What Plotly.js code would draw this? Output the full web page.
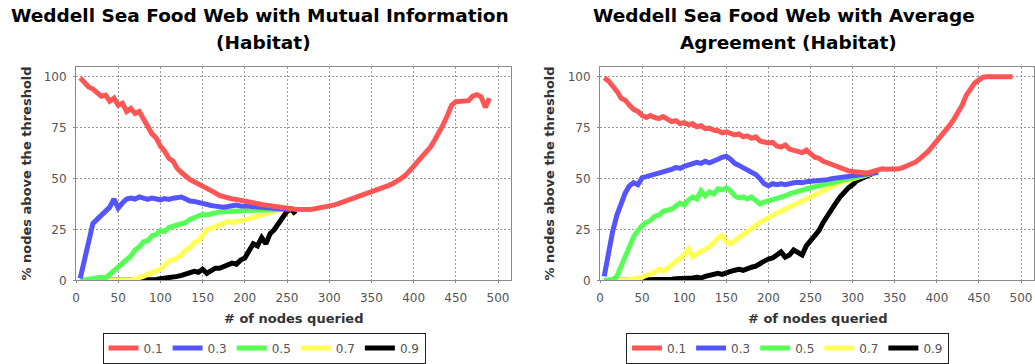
<!DOCTYPE html>
<html>
<head>
<meta charset="utf-8">
<script src="https://cdn.plot.ly/plotly-3.0.1.min.js"></script>
<style>html,body{margin:0;padding:0;background:#fff;}#chart{width:1035px;height:364px;}</style>
</head>
<body>
<div id="chart"></div>
<script>
// # of nodes queried (shared x values)
const nodesQueried = [5,10,15,20,25,30,35,40,45,50,55,60,65,70,75,80,85,90,95,100,
  105,110,115,120,125,130,135,140,145,150,155,160,165,170,175,180,185,190,195,200,
  205,210,215,220,225,230,235,240,245,250,255,260,265,270,275,280,285,290,295,300,
  305,310,315,320,325,330,335,340,345,350,355,360,365,370,375,380,385,390,395,400,
  405,410,415,420,425,430,435,440,445,450,455,460,465,470,475,480,485,490];

const thresholds = ["0.1","0.3","0.5","0.7","0.9"];
const seriesColors = ["#FF5555","#5555FF","#55FF55","#FFFF55","#000000"];

// Mutual Information (Habitat): % nodes above threshold
const miT01 = [99.5,97,95,94,92,90.5,91,88,89.5,86,
  87,83,84.5,82,83,79,76,72,70,66,
  63.5,60,58.5,55,53,51,49.5,48.5,47.5,46.5,
  45,44,43,41.8,41,40.5,40,39.8,39.3,39,
  38.5,38.2,37.8,37.3,37,36.6,36.3,36,35.8,35.5,
  35.2,35,34.8,34.8,34.8,35,35.3,35.8,36.2,36.5,
  37,37.6,38.3,39,39.8,40.5,41.3,42,42.8,43.6,
  44.3,45,45.8,46.6,47.5,48.6,50,51.5,53.5,56,
  58.5,61,63,65.5,69,72.5,76.5,81,86,87.8,
  88,88.5,88.3,90.5,91.2,90.2,85,89.5];
const miT03 = [1,10,19,28,30,32,33.5,36,40,35.5,
  38,40,40.5,40,41,40.2,39.8,40.5,40,39.6,
  40.2,39.8,40.4,40.5,41,40,39,38.8,38.2,37.8,
  37.4,36.8,36.5,36.2,36,36.3,36.8,37,36.6,36.8,
  36.5,36.2,36,35.8,35.6,35.4,35.3,35.2,35,34.9,
  34.8];
const miT05 = [0,0.3,0.5,1,0.8,1.5,1.2,3,5,6.5,
  8.5,10,12,15,16.5,19,19.5,22,22.5,24.5,
  24,26,26.5,27.5,28,28.5,30,31,31.5,32.5,
  32.2,33,33.2,33.6,33.4,33.8,34,33.8,34.2,34.4,
  34.3,34.5,34.4,34.6,34.6,34.7,34.8,34.8,34.8];
const miT07 = [0,0,0,0,0,0,0,0,0,0,
  0,0,0.3,0.8,1.2,2,3,4,5,5.5,
  7.5,9.5,10,11.5,12.5,15,16,18.5,19.5,22,
  25,25.5,26.5,27,28,29,28.5,28.8,29.5,30,
  30.2,31,31.5,32,32.5,33.4,34,34.5];
const miT09 = [0,0,0,0,0,0,0,0,0,0,
  0,0,0,0,0,0,0.2,0.3,0.5,0.8,
  1,1.5,1.2,2,2.5,3,3.5,4.5,4,5.5,
  3.5,5,6,6,6.8,7.5,8.5,8,10,11,
  14,18,17,21,18,23,25,28,30.5,34,
  35,32.5];

// Average Agreement (Habitat): % nodes above threshold
const aaT01 = [99.5,98,95.5,93,89.5,88.5,86,84,83,81,
  80,81,80,79.5,80.5,79,78,78.5,77,77.5,
  76.5,77,75.5,76,74.5,74.8,73.8,73.5,72.5,73,
  72,71.5,72,70.5,71,69.8,70.5,68.5,68,67.5,
  67.8,66,65.5,66.5,64.5,64,63.5,62.8,64,62,
  60.5,60,58.5,57.8,57,55.8,55.2,54.5,53.8,53.5,
  53.2,53,52.8,53,53.8,54.5,54.8,54.6,54.5,54.5,
  54.8,55.5,56.2,57,58.2,59.8,61.5,63.5,66,68.5,
  70.5,73,76,79,82.5,86,91,94.5,97,98.5,
  99.8,100,100,100,100,100,100,100];
const aaT03 = [2,14,24,32,38,43,46.5,48,47,50.5,
  51,51.5,52,52.5,53.5,53.8,54.5,55.5,55,56,
  56.5,57,58,57.5,58.5,57.8,59,59.5,60.5,61,
  59.5,57.5,56.5,55.5,54.5,53.5,52,50,47.5,46.5,
  47.5,47,47.5,47,47.8,48,48.2,48,48.5,48.6,
  48.8,49,49.2,49.5,50,50.3,50.6,51,51.2,51.5,
  51.8,52,52.2,52.5,52.8,53];
const aaT05 = [0,0,0.5,2,7,12,17,21.5,24.5,27,
  28.5,29.5,31.5,32,34,34.5,35,36.5,38,37,
  39.5,41,40,44,41.5,43.5,42.5,45,44.5,45.5,
  44,41.5,40.5,41,40,41,39.5,37.5,38.5,39,
  39.5,40.5,41,41.5,42.5,43.2,43.8,44.2,44.8,45.5,
  46,46.5,47,47.5,48,48.3,48.8,49.2,49.7,50.2,
  50.8,51.3,51.8,52.2,52.8];
const aaT07 = [0,0,0,0.2,0.3,0.5,0.5,0.8,1,1.5,
  2.5,3,4,5.5,4.5,6,7.5,9,11,12.5,
  15.5,11.5,13,14,15.5,16.5,18.5,21,22,19,
  18,19.5,21.5,23,24.5,26,27.5,28.5,29.5,31,
  32,33,34,35,36,37,38,39,40,41.5,
  42.5,43.5,44.5,45.5,46.4,47.2,48,48.7,49.3,50,
  50.6,51.2,51.8,52.3,52.8];
const aaT09 = [0,0,0,0,0,0,0,0,0,0,
  0,0.2,0.3,0.3,0.5,0.5,0.6,0.8,0.8,1,
  1,1.2,1.5,1.2,2,2.5,3,3.5,3,4,
  4.5,5,5.5,5,6,6.5,7,8.5,9.5,10.5,
  11,12.5,14,11.5,12.5,15,14,12.5,17,19.5,
  22,24.5,28.5,32,35,38,41,43.5,45.5,47,
  49,50,51,52,52.8,53.3];

const titleLeft = ["Weddell Sea Food Web with Mutual Information", "(Habitat)"];
const titleRight = ["Weddell Sea Food Web with Average", "Agreement (Habitat)"];
const xTitle = "# of nodes queried";
const yTitle = "% nodes above the threshold";

const W = 1035, H = 364;
const px = v => v / W;
const py = v => (H - v) / H;

const miSeries = [miT01, miT03, miT05, miT07, miT09];
const aaSeries = [aaT01, aaT03, aaT05, aaT07, aaT09];

const traces = [];
function addTraces(series, xa, ya, legendId) {
  // draw the last series first so that 0.1 ends up on top
  for (let i = series.length - 1; i >= 0; i--) {
    const y = series[i];
    traces.push({
      type: 'scatter', mode: 'lines',
      x: nodesQueried.slice(0, y.length), y: y,
      xaxis: xa, yaxis: ya,
      name: thresholds[i],
      legend: legendId,
      legendrank: i + 1,
      line: {color: seriesColors[i], width: 5},
      hoverinfo: 'skip'
    });
  }
}
addTraces(miSeries, 'x', 'y', 'legend');
addTraces(aaSeries, 'x2', 'y2', 'legend2');

const fontFam = 'DejaVu Sans, sans-serif';
const xaxisBase = {
  range: [0, 515.4], tickvals: [0,50,100,150,200,250,300,350,400,450,500],
  showgrid: true, gridcolor: '#9a9a9a', griddash: '2px,2px', gridwidth: 1,
  showline: true, mirror: true, linecolor: '#8a8a8a', linewidth: 1,
  ticks: 'outside', ticklen: 2, tickcolor: '#8a8a8a',
  zeroline: false, fixedrange: true,
  tickfont: {family: fontFam, size: 12, color: '#555'},
  ticklabelstandoff: 4
};
const yaxisBase = {
  range: [0, 105], tickvals: [0,25,50,75,100],
  domain: [82/H, 297/H],
  showgrid: true, gridcolor: '#9a9a9a', griddash: '2px,2px', gridwidth: 1,
  showline: true, mirror: true, linecolor: '#8a8a8a', linewidth: 1,
  ticks: 'outside', ticklen: 2, tickcolor: '#8a8a8a',
  zeroline: true, zerolinecolor: '#555', zerolinewidth: 1, fixedrange: true,
  tickfont: {family: fontFam, size: 12, color: '#555'},
  ticklabelstandoff: 4
};

const titleFont = {family: fontFam, size: 18.5, color: '#000', weight: 700};
const axisTitleFont = {family: fontFam, size: 13, color: '#333', weight: 700};
function ann(text, x, y, font, angle) {
  return {text: text, xref: 'paper', yref: 'paper', x: px(x), y: py(y),
    xanchor: 'center', yanchor: 'middle', showarrow: false, font: font,
    textangle: angle || 0};
}

const legendBase = {
  orientation: 'h', xanchor: 'center', yanchor: 'middle', y: py(350),
  bgcolor: '#fff', bordercolor: '#222', borderwidth: 1,
  font: {family: fontFam, size: 12, color: '#555'},
  itemwidth: 30, traceorder: 'normal', itemclick: false, itemdoubleclick: false
};

const layout = {
  width: W, height: H,
  margin: {l: 0, r: 0, t: 0, b: 0},
  paper_bgcolor: '#fff', plot_bgcolor: '#fff',
  showlegend: true,
  xaxis: Object.assign({}, xaxisBase, {domain: [px(76), px(511)], anchor: 'y'}),
  yaxis: Object.assign({}, yaxisBase, {anchor: 'x'}),
  xaxis2: Object.assign({}, xaxisBase, {domain: [px(600), px(1034)], anchor: 'y2'}),
  yaxis2: Object.assign({}, yaxisBase, {anchor: 'x2'}),
  legend: Object.assign({}, legendBase, {x: px(264)}),
  legend2: Object.assign({}, legendBase, {x: px(787.5)}),
  annotations: [
    ann(titleLeft[0], 260, 15.5, titleFont),
    ann(titleLeft[1], 263, 43, titleFont),
    ann(titleRight[0], 784, 15.5, titleFont),
    ann(titleRight[1], 788, 43, titleFont),
    ann(xTitle, 293, 320, axisTitleFont),
    ann(xTitle, 817, 320, axisTitleFont),
    ann(yTitle, 27, 174.5, axisTitleFont, -90),
    ann(yTitle, 550, 174.5, axisTitleFont, -90)
  ]
};

Plotly.newPlot('chart', traces, layout, {staticPlot: true, displayModeBar: false});
</script>
</body>
</html>
